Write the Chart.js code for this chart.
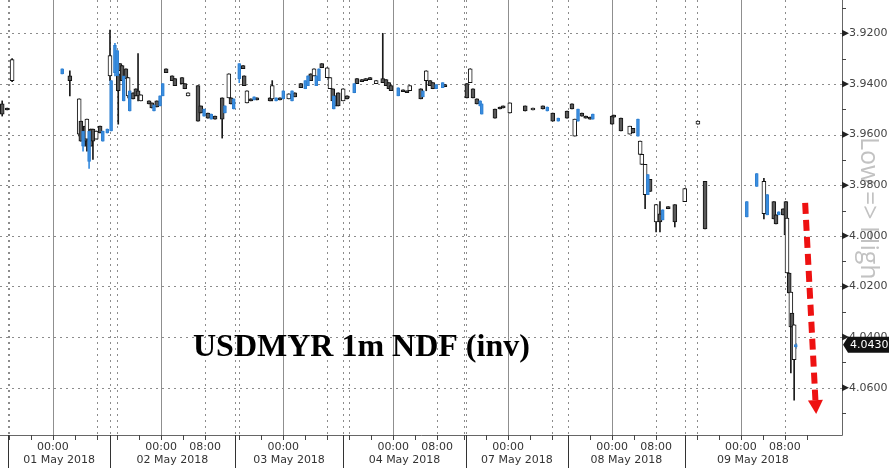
<!DOCTYPE html>
<html><head><meta charset="utf-8">
<script src="https://cdn.jsdelivr.net/npm/chart.js@4"></script>
<style>html,body{margin:0;padding:0;background:#fff;}#wrap{width:890px;height:468px;}</style>
</head><body><div id="wrap"><canvas id="c" width="890" height="468"></canvas></div>
<script>
// ---- Data (x = trading-session hours, y = USDMYR 1m NDF) ----
const blackT=[0.4,1.3,2.2,12.7,14.4,14.7,15.5,15.8,16.5,16.9,17.5,18.2,20.0,21.5,21.8,22.2,22.9,23.3,24.2,24.7,25.1,25.6,27.1,27.6,28.5,30.2,31.3,31.8,33.1,33.6,34.2,36.0,36.5,37.8,39.1,40.4,41.6,42.0,44.2,44.4,44.9,45.6,46.7,49.1,49.5,50.9,52.5,53.6,54.7,56.5,57.1,58.5,59.5,60.0,60.5,61.1,61.5,62.4,63.1,64.9,65.8,66.5,67.3,68.4,69.6,70.2,70.7,71.1,73.3,74.0,74.5,76.5,77.5,78.2,78.7,80.9,84.9,85.5,86.0,86.7,90.0,90.9,91.5,92.7,95.5,96.9,98.7,100.5,103.1,104.0,104.5,105.8,106.5,107.3,111.3,111.6,112.9,114.5,115.1,116.4,116.7,117.3,118.2,119.3,120.0,121.5,122.7,124.5,126.9,128.2,138.9,140.7,141.1,142.4,142.9,143.1,143.5,143.8,144.0,144.4];
const blackOpen=[3.9519,3.9503,3.9304,3.9387,3.9459,3.9626,3.9626,3.9539,3.9646,3.9626,3.9586,3.9594,3.9288,3.9427,3.9348,3.9387,3.9379,3.9375,3.9459,3.9447,3.9447,3.9443,3.9479,3.9495,3.9491,3.9356,3.9387,3.9407,3.9399,3.9419,3.9435,3.9547,3.9515,3.9535,3.9539,3.9539,3.9360,3.9479,3.9340,3.9407,3.9427,3.9467,3.9463,3.9467,3.9407,3.9463,3.9439,3.9451,3.9415,3.9387,3.9340,3.9336,3.9336,3.9375,3.9467,3.9487,3.9487,3.9419,3.9459,3.9399,3.9387,3.9383,3.9379,3.9387,3.9395,3.9407,3.9419,3.9427,3.9431,3.9435,3.9407,3.9459,3.9348,3.9407,3.9419,3.9411,3.9455,3.9340,3.9455,3.9479,3.9535,3.9499,3.9495,3.9475,3.9507,3.9495,3.9499,3.9547,3.9535,3.9499,3.9539,3.9527,3.9535,3.9539,3.9559,3.9531,3.9586,3.9567,3.9594,3.9626,3.9678,3.9718,3.9825,3.9877,3.9945,3.9893,3.9945,3.9813,3.9547,3.9973,3.9785,3.9933,3.9953,3.9917,3.9996,3.9930,4.0226,4.0222,4.0360,4.0352];
const blackHigh=[3.9527,3.9503,3.9391,3.9447,3.9606,3.9626,3.9646,3.9666,3.9646,3.9698,3.9618,3.9594,3.9387,3.9559,3.9348,3.9387,3.9379,3.9455,3.9459,3.9447,3.9467,3.9467,3.9479,3.9495,3.9491,3.9356,3.9387,3.9407,3.9399,3.9419,3.9447,3.9547,3.9515,3.9535,3.9539,3.9614,3.9455,3.9479,3.9340,3.9407,3.9475,3.9467,3.9463,3.9467,3.9467,3.9463,3.9459,3.9451,3.9415,3.9387,3.9368,3.9336,3.9375,3.9419,3.9467,3.9487,3.9487,3.9467,3.9459,3.9399,3.9387,3.9383,3.9379,3.9399,3.9395,3.9407,3.9419,3.9427,3.9431,3.9435,3.9427,3.9459,3.9427,3.9407,3.9419,3.9411,3.9455,3.9395,3.9455,3.9479,3.9535,3.9499,3.9495,3.9515,3.9507,3.9503,3.9499,3.9547,3.9535,3.9499,3.9606,3.9527,3.9535,3.9539,3.9559,3.9531,3.9586,3.9598,3.9594,3.9678,3.9718,3.9893,3.9825,3.9985,3.9985,3.9893,3.9965,3.9865,3.9559,3.9973,3.9933,3.9933,3.9953,3.9917,3.9996,4.0147,4.0226,4.0542,4.0360,4.0649];
const blackLow=[3.9467,3.9495,3.9300,3.9348,3.9459,3.9547,3.9567,3.9539,3.9578,3.9578,3.9586,3.9567,3.9187,3.9348,3.9320,3.9328,3.9340,3.9375,3.9435,3.9419,3.9280,3.9443,3.9467,3.9475,3.9467,3.9340,3.9368,3.9379,3.9375,3.9399,3.9435,3.9407,3.9487,3.9515,3.9527,3.9455,3.9360,3.9455,3.9328,3.9368,3.9427,3.9459,3.9455,3.9455,3.9387,3.9455,3.9439,3.9435,3.9399,3.9360,3.9340,3.9320,3.9336,3.9375,3.9419,3.9447,3.9435,3.9419,3.9447,3.9379,3.9383,3.9379,3.9375,3.9387,3.9200,3.9383,3.9395,3.9407,3.9423,3.9427,3.9407,3.9419,3.9348,3.9387,3.9395,3.9403,3.9399,3.9340,3.9419,3.9459,3.9499,3.9491,3.9487,3.9475,3.9487,3.9495,3.9487,3.9515,3.9507,3.9479,3.9539,3.9515,3.9527,3.9531,3.9527,3.9523,3.9535,3.9567,3.9575,3.9626,3.9678,3.9718,3.9777,3.9877,3.9865,3.9885,3.9877,3.9813,3.9547,3.9785,3.9773,3.9865,3.9917,3.9893,3.9865,3.9930,4.0147,4.0222,4.0305,4.0352];
const blackClose=[3.9479,3.9495,3.9387,3.9368,3.9598,3.9547,3.9567,3.9618,3.9578,3.9578,3.9618,3.9567,3.9368,3.9360,3.9320,3.9328,3.9340,3.9447,3.9435,3.9419,3.9427,3.9467,3.9467,3.9475,3.9467,3.9340,3.9368,3.9379,3.9375,3.9399,3.9447,3.9407,3.9487,3.9515,3.9527,3.9455,3.9455,3.9455,3.9328,3.9368,3.9475,3.9459,3.9455,3.9455,3.9459,3.9455,3.9459,3.9435,3.9399,3.9360,3.9368,3.9320,3.9375,3.9419,3.9419,3.9447,3.9435,3.9467,3.9447,3.9379,3.9383,3.9379,3.9375,3.9399,3.9379,3.9383,3.9395,3.9407,3.9423,3.9427,3.9427,3.9419,3.9387,3.9387,3.9395,3.9403,3.9399,3.9395,3.9419,3.9459,3.9499,3.9491,3.9487,3.9515,3.9487,3.9503,3.9487,3.9515,3.9507,3.9479,3.9606,3.9515,3.9527,3.9531,3.9527,3.9523,3.9535,3.9598,3.9575,3.9678,3.9718,3.9837,3.9777,3.9945,3.9913,3.9885,3.9877,3.9865,3.9559,3.9785,3.9913,3.9865,3.9917,3.9893,3.9865,4.0147,4.0147,4.0360,4.0305,4.0489];

const blueT=[11.3,15.1,16.2,18.7,19.5,20.2,20.9,21.3,22.5,23.6,28.0,29.1,29.6,37.1,38.4,40.9,42.5,43.5,46.2,50.2,51.5,53.1,55.5,56.0,57.5,58.0,60.7,64.4,72.4,76.9,79.3,80.5,87.3,87.6,99.5,101.5,105.1,107.8,116.0,117.8,120.5,135.8,137.6,139.5,141.6,144.7];
const blueOpen=[3.9340,3.9586,3.9586,3.9626,3.9594,3.9586,3.9356,3.9268,3.9368,3.9427,3.9483,3.9487,3.9447,3.9499,3.9519,3.9515,3.9499,3.9379,3.9451,3.9455,3.9459,3.9427,3.9419,3.9407,3.9368,3.9387,3.9447,3.9399,3.9415,3.9427,3.9419,3.9415,3.9467,3.9479,3.9507,3.9535,3.9547,3.9519,3.9539,3.9758,3.9897,3.9865,3.9754,3.9837,3.9905,4.0439];
const blueHigh=[3.9360,3.9666,3.9734,3.9626,3.9594,3.9586,3.9368,3.9368,3.9467,3.9507,3.9507,3.9487,3.9447,3.9527,3.9539,3.9515,3.9499,3.9395,3.9463,3.9467,3.9459,3.9467,3.9419,3.9407,3.9407,3.9387,3.9499,3.9435,3.9447,3.9451,3.9419,3.9415,3.9487,3.9519,3.9507,3.9547,3.9547,3.9539,3.9606,3.9837,3.9937,3.9925,3.9805,3.9917,3.9917,4.0445];
const blueLow=[3.9340,3.9586,3.9586,3.9586,3.9578,3.9387,3.9240,3.9268,3.9368,3.9427,3.9483,3.9447,3.9399,3.9499,3.9519,3.9487,3.9459,3.9320,3.9451,3.9455,3.9427,3.9427,3.9387,3.9368,3.9368,3.9340,3.9447,3.9399,3.9415,3.9427,3.9403,3.9395,3.9467,3.9479,3.9491,3.9535,3.9499,3.9519,3.9539,3.9758,3.9897,3.9865,3.9754,3.9837,3.9905,4.0425];
const blueClose=[3.9360,3.9646,3.9706,3.9586,3.9578,3.9387,3.9248,3.9368,3.9467,3.9507,3.9507,3.9447,3.9399,3.9527,3.9539,3.9487,3.9459,3.9320,3.9463,3.9467,3.9427,3.9467,3.9387,3.9368,3.9407,3.9340,3.9499,3.9435,3.9447,3.9451,3.9403,3.9395,3.9487,3.9519,3.9491,3.9547,3.9499,3.9539,3.9606,3.9837,3.9937,3.9925,3.9805,3.9917,3.9917,4.0430];

const yTicks=[3.92,3.94,3.96,3.98,4.00,4.02,4.04,4.06];
const yMinorTicks=[3.91,3.93,3.95,3.97,3.99,4.01,4.03,4.05,4.07];
const dayLabels=['01 May 2018','02 May 2018','03 May 2018','04 May 2018','07 May 2018','08 May 2018','09 May 2018'];
const sessionBreaks=[1.5,20.0,42.7,62.4,84.7,103.3,124.5,149.3];
const dayMidnight=[9.6,29.3,51.5,71.5,92.4,111.3,134.7];
const timeTickT=[9.6,29.3,37.3,51.5,71.5,79.5,92.4,111.3,119.3,134.7,142.7];
const timeTickLabels=['00:00','00:00','08:00','00:00','00:00','08:00','00:00','00:00','08:00','00:00','08:00'];
const xMin=0, xMax=153.1, yMin=3.90685, yMax=4.07868;
const lastPrice=4.0430;
const titleText='USDMYR 1m NDF (inv)';
const axisNote='Low => High';
const arrowFrom=[146.4,3.9870], arrowTo=[148.4,4.0704];

// ---- build datasets ----
const blackWick=blackT.map((t,i)=>({x:t,y:[blackLow[i],blackHigh[i]]}));
const blackBody=blackT.map((t,i)=>({x:t,y:[blackOpen[i],blackClose[i]]}));
const blackFill=blackT.map((t,i)=>blackClose[i]>blackOpen[i]?'#ffffff':'#5a5a5a');
const blueWick=blueT.map((t,i)=>({x:t,y:[blueLow[i],blueHigh[i]]}));
const blueBody=blueT.map((t,i)=>({x:t,y:[blueOpen[i],blueClose[i]]}));

const crisp=v=>Math.round(v)+0.5;

const decor={
  id:'decor',
  beforeDraw(chart){
    const {ctx,chartArea:a,scales:{x,y}}=chart;
    ctx.save();
    ctx.fillStyle='#fff';ctx.fillRect(0,0,chart.width,chart.height);
    // vertical note
    ctx.save();
    ctx.translate(861,137);ctx.rotate(Math.PI/2);
    ctx.font='25px "Open Sans"';ctx.fillStyle='#c2c2c2';ctx.textBaseline='alphabetic';ctx.textAlign='left';
    ctx.fillText(axisNote,0,0);
    ctx.restore();
    // horizontal dotted grid
    ctx.strokeStyle='#8c8c8c';ctx.lineWidth=1;ctx.setLineDash([2,4]);
    yTicks.forEach(v=>{const py=crisp(y.getPixelForValue(v));ctx.beginPath();ctx.moveTo(a.left,py);ctx.lineTo(a.right,py);ctx.stroke();});
    // vertical dotted lines: session breaks, 16:00 and 08:00
    const dotted=[...sessionBreaks.slice(0,7),...dayMidnight.map(m=>m-8),...dayMidnight.map(m=>m+8)];
    dotted.forEach(t=>{const px=crisp(x.getPixelForValue(t));ctx.beginPath();ctx.moveTo(px,a.top);ctx.lineTo(px,a.bottom);ctx.stroke();});
    ctx.setLineDash([]);
    // solid lines at 00:00
    ctx.strokeStyle='#8f8f8f';
    dayMidnight.forEach(t=>{const px=crisp(x.getPixelForValue(t));ctx.beginPath();ctx.moveTo(px,a.top);ctx.lineTo(px,a.bottom);ctx.stroke();});
    // axis lines
    ctx.strokeStyle='#666';
    ctx.beginPath();ctx.moveTo(a.left,crisp(a.bottom));ctx.lineTo(crisp(a.right),crisp(a.bottom));ctx.lineTo(crisp(a.right),a.top);ctx.stroke();
    // x minor ticks
    ctx.strokeStyle='#444';
    const xt=[];dayMidnight.forEach((m,i)=>{xt.push(m-8,m-4,m,m+4,m+8);if(i===dayMidnight.length-1)xt.push(m+12);});
    xt.forEach(t=>{const px=crisp(x.getPixelForValue(t));ctx.beginPath();ctx.moveTo(px,a.bottom);ctx.lineTo(px,a.bottom+5);ctx.stroke();});
    // session separators below axis
    ctx.strokeStyle='#333';
    sessionBreaks.slice(0,7).forEach(t=>{const px=crisp(x.getPixelForValue(t));ctx.beginPath();ctx.moveTo(px,a.bottom);ctx.lineTo(px,chart.height);ctx.stroke();});
    // day labels
    ctx.fillStyle='#333';ctx.font='11px "DejaVu Sans"';ctx.textAlign='center';ctx.textBaseline='alphabetic';
    dayLabels.forEach((d,i)=>{const cx=(x.getPixelForValue(sessionBreaks[i])+x.getPixelForValue(sessionBreaks[i+1]))/2;ctx.fillText(d,cx,463);});
    // y minor ticks
    ctx.strokeStyle='#444';
    yMinorTicks.forEach(v=>{const py=crisp(y.getPixelForValue(v));ctx.beginPath();ctx.moveTo(a.right,py);ctx.lineTo(a.right+4,py);ctx.stroke();});
    // y major tick arrows
    ctx.fillStyle='#222';
    yTicks.forEach(v=>{const py=y.getPixelForValue(v);ctx.beginPath();ctx.moveTo(a.right,py-3.5);ctx.lineTo(a.right+7,py);ctx.lineTo(a.right,py+3.5);ctx.closePath();ctx.fill();});
    // title annotation
    ctx.fillStyle='#000';ctx.font='bold 32px "Liberation Serif"';ctx.textAlign='left';ctx.textBaseline='alphabetic';
    ctx.fillText(titleText,193,356);
    ctx.restore();
  },
  afterDraw(chart){
    const {ctx,chartArea:a,scales:{x,y}}=chart;
    ctx.save();
    // red dashed arrow
    const x1=x.getPixelForValue(arrowFrom[0]),y1=y.getPixelForValue(arrowFrom[1]);
    const x2=x.getPixelForValue(arrowTo[0]),y2=y.getPixelForValue(arrowTo[1]);
    const len=Math.hypot(x2-x1,y2-y1),ux=(x2-x1)/len,uy=(y2-y1)/len;
    const hl=14,hw=7.5;
    const bx=x2-ux*hl,by=y2-uy*hl;
    ctx.strokeStyle='#ee1111';ctx.lineWidth=6;ctx.setLineDash([11,6]);ctx.lineCap='butt';
    ctx.beginPath();ctx.moveTo(x1,y1);ctx.lineTo(bx,by);ctx.stroke();
    ctx.setLineDash([]);ctx.fillStyle='#ee1111';
    ctx.beginPath();ctx.moveTo(x2,y2);ctx.lineTo(bx-uy*hw,by+ux*hw);ctx.lineTo(bx+uy*hw,by-ux*hw);ctx.closePath();ctx.fill();
    // last price box
    const py=y.getPixelForValue(lastPrice);
    const L=a.right+1;
    ctx.fillStyle='#111';
    ctx.beginPath();ctx.moveTo(L,py);ctx.lineTo(L+5,py-8);ctx.lineTo(889,py-8);ctx.lineTo(889,py+8);ctx.lineTo(L+5,py+8);ctx.closePath();ctx.fill();
    ctx.fillStyle='#fff';ctx.font='11px "DejaVu Sans"';ctx.textAlign='left';ctx.textBaseline='middle';
    ctx.fillText(lastPrice.toFixed(4),L+7,py+0.5);
    ctx.restore();
  }
};

new Chart(document.getElementById('c'),{
  type:'bar',
  data:{datasets:[
    {data:blueBody,backgroundColor:'#3a8ee0',borderColor:'#2f7fd0',borderWidth:1,borderSkipped:false,barThickness:3,minBarLength:2,order:0},
    {data:blackBody,backgroundColor:blackFill,borderColor:'#111',borderWidth:1,borderSkipped:false,barThickness:4,minBarLength:2,order:1},
    {data:blueWick,backgroundColor:'#3a8ee0',borderWidth:0,barThickness:1,order:2},
    {data:blackWick,backgroundColor:'#1a1a1a',borderWidth:0,barThickness:1,order:3}
  ]},
  options:{
    responsive:false,animation:false,devicePixelRatio:1,events:[],
    layout:{padding:0},
    datasets:{bar:{grouped:false}},
    plugins:{legend:{display:false},tooltip:{enabled:false}},
    scales:{
      x:{type:'linear',min:xMin,max:xMax,offset:false,
        grid:{display:false,drawTicks:false},border:{display:false},
        afterBuildTicks:ax=>{ax.ticks=timeTickT.map(v=>({value:v}));},
        ticks:{autoSkip:false,maxRotation:0,minRotation:0,padding:6,color:'#333',font:{family:'DejaVu Sans',size:11},callback:(v,i)=>timeTickLabels[i]},
        afterFit:s=>{s.height=33;s.paddingLeft=0;s.paddingRight=0;}
      },
      y:{type:'linear',position:'right',reverse:true,min:yMin,max:yMax,
        grid:{display:false,drawTicks:false},border:{display:false},
        afterBuildTicks:ax=>{ax.ticks=yTicks.map(v=>({value:v}));},
        ticks:{padding:7,color:'#444',font:{family:'DejaVu Sans',size:11},callback:v=>Number(v).toFixed(4)},
        afterFit:s=>{s.width=48;s.paddingTop=0;s.paddingBottom=0;}
      }
    }
  },
  plugins:[decor]
});
</script>
</body></html>
